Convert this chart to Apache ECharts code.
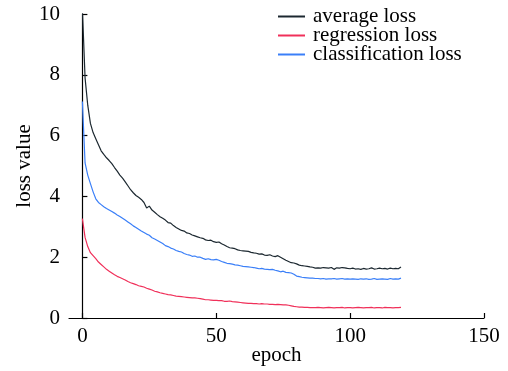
<!DOCTYPE html>
<html>
<head>
<meta charset="utf-8">
<script src="https://cdn.jsdelivr.net/npm/echarts@6/dist/echarts.min.js"></script>
<style>
  html, body { margin: 0; padding: 0; background: #fff; }
  #chart { width: 508px; height: 371px; }
</style>
</head>
<body>
<div id="chart"></div>
<script>
// loss per epoch (0..119)
const averageLoss = [
  10.15, 7.9, 7.0, 6.4, 6.1, 5.9, 5.7, 5.5, 5.38, 5.27,
  5.18, 5.08, 4.95, 4.83, 4.7, 4.6, 4.48, 4.35, 4.22, 4.12,
  4.03, 3.97, 3.9, 3.8, 3.62, 3.68, 3.55, 3.48, 3.4, 3.33,
  3.28, 3.22, 3.14, 3.12, 3.04, 2.98, 2.93, 2.88, 2.86, 2.8,
  2.78, 2.73, 2.7, 2.67, 2.64, 2.62, 2.57, 2.55, 2.56, 2.51,
  2.49, 2.5, 2.44, 2.4, 2.35, 2.31, 2.3, 2.28, 2.24, 2.22,
  2.21, 2.2, 2.19, 2.16, 2.14, 2.13, 2.1, 2.11, 2.07, 2.06,
  2.08, 2.04, 2.02, 2.05, 2.0, 1.95, 1.9, 1.86, 1.82, 1.81,
  1.78, 1.74, 1.72, 1.71, 1.7, 1.68, 1.67, 1.64, 1.65, 1.64,
  1.66, 1.65, 1.64, 1.66, 1.6, 1.65, 1.64, 1.66, 1.65, 1.63,
  1.62, 1.64, 1.61, 1.62, 1.6, 1.63, 1.61, 1.62, 1.65, 1.61,
  1.62, 1.64, 1.62, 1.63, 1.61, 1.64, 1.62, 1.63, 1.62, 1.68
];
const regressionLoss = [
  3.27, 2.65, 2.35, 2.15, 2.05, 1.95, 1.84, 1.76, 1.68, 1.6,
  1.54, 1.48, 1.42, 1.37, 1.33, 1.29, 1.25, 1.2, 1.16, 1.13,
  1.1, 1.06, 1.04, 1.02, 0.98, 0.95, 0.92, 0.88, 0.86, 0.83,
  0.81, 0.79, 0.77, 0.76, 0.74, 0.72, 0.71, 0.7, 0.69, 0.68,
  0.67, 0.66, 0.66, 0.65, 0.64, 0.62, 0.6, 0.6, 0.59, 0.58,
  0.58, 0.57, 0.57, 0.55, 0.55, 0.56, 0.54, 0.53, 0.52, 0.51,
  0.5, 0.49, 0.48, 0.48, 0.47, 0.47, 0.46, 0.47, 0.46, 0.46,
  0.45, 0.45, 0.44, 0.45, 0.44, 0.43, 0.43, 0.42, 0.4, 0.38,
  0.37, 0.36, 0.36, 0.35, 0.35, 0.34, 0.34, 0.34, 0.35, 0.34,
  0.33, 0.34, 0.35, 0.34, 0.33, 0.34, 0.34, 0.35, 0.33, 0.34,
  0.34, 0.33, 0.34, 0.35, 0.34, 0.33, 0.34, 0.34, 0.35, 0.33,
  0.34, 0.34, 0.33, 0.35, 0.34, 0.34, 0.33, 0.34, 0.34, 0.35
];
const classificationLoss = [
  7.12, 5.1, 4.7, 4.42, 4.15, 3.92, 3.8, 3.73, 3.66, 3.6,
  3.55, 3.5, 3.45, 3.39, 3.34, 3.28, 3.22, 3.16, 3.1, 3.03,
  2.98, 2.92, 2.86, 2.81, 2.76, 2.72, 2.64, 2.6, 2.55, 2.5,
  2.45, 2.38, 2.35, 2.3, 2.27, 2.22, 2.19, 2.17, 2.12, 2.09,
  2.07, 2.03, 2.04, 2.0, 2.0, 1.96, 1.93, 1.95, 1.92, 1.91,
  1.93, 1.9, 1.86, 1.83, 1.8, 1.79, 1.77, 1.75, 1.74, 1.72,
  1.7, 1.69, 1.68, 1.67, 1.66, 1.64, 1.62, 1.63, 1.61, 1.6,
  1.59, 1.6, 1.57, 1.55, 1.52, 1.54, 1.5, 1.49, 1.48, 1.44,
  1.38, 1.36, 1.34, 1.33, 1.32, 1.31, 1.31, 1.3, 1.3, 1.29,
  1.3, 1.28, 1.29, 1.29, 1.3, 1.28, 1.29, 1.3, 1.28, 1.29,
  1.28, 1.29, 1.28, 1.27, 1.29, 1.28, 1.29, 1.27, 1.28, 1.3,
  1.27, 1.28, 1.29, 1.28, 1.27, 1.3, 1.28, 1.29, 1.28, 1.31
];
const xTicks = [0, 50, 100, 150];

const font = '"Liberation Serif", "Times New Roman", serif';
const toPairs = arr => arr.map((v, i) => [i, v]);

const makeLine = (name, arr, color) => ({
  name: name,
  type: 'line',
  data: toPairs(arr),
  showSymbol: false,
  symbol: 'none',
  lineStyle: { color: color, width: 1.2 },
  itemStyle: { color: color },
  animation: false
});

const chart = echarts.init(document.getElementById('chart'), null, { renderer: 'canvas' });
chart.setOption({
  backgroundColor: '#fff',
  animation: false,
  grid: { left: 69, right: 24, top: 14, bottom: 53, containLabel: false, outerBoundsMode: 'none' },
  legend: {
    orient: 'vertical',
    left: 278,
    top: 6,
    padding: 0,
    itemWidth: 27,
    itemHeight: 2,
    itemGap: -2,
    icon: 'rect',
    textStyle: { fontFamily: font, fontSize: 21, color: '#000', lineHeight: 19.5, padding: [0, 0, 0, 3] },
    data: ['average loss', 'regression loss', 'classification loss']
  },
  xAxis: {
    type: 'value',
    min: -5,
    max: 150,
    name: 'epoch',
    nameLocation: 'middle',
    nameGap: 27,
    nameMoveOverlap: false,
    nameTextStyle: { fontFamily: font, fontSize: 21, color: '#000' },
    axisLine: { lineStyle: { color: '#000', width: 1.2 } },
    axisTick: { inside: true, length: 5, customValues: xTicks, lineStyle: { color: '#000', width: 1.2 } },
    axisLabel: { customValues: xTicks, margin: 8, fontFamily: font, fontSize: 21, color: '#000' },
    splitLine: { show: false }
  },
  yAxis: {
    type: 'value',
    min: 0,
    max: 10,
    interval: 2,
    name: 'loss value',
    nameLocation: 'middle',
    nameGap: 34,
    nameMoveOverlap: false,
    nameTextStyle: { fontFamily: font, fontSize: 21, color: '#000' },
    axisLine: { show: true, lineStyle: { color: '#000', width: 1.2 } },
    axisTick: { show: true, inside: true, length: 5, lineStyle: { color: '#000', width: 1.2 } },
    axisLabel: { margin: 9, fontFamily: font, fontSize: 21, color: '#000' },
    splitLine: { show: false }
  },
  series: [
    makeLine('average loss', averageLoss, '#1c2830'),
    makeLine('regression loss', regressionLoss, '#f0305a'),
    makeLine('classification loss', classificationLoss, '#3a7ff8')
  ]
});
</script>
</body>
</html>
